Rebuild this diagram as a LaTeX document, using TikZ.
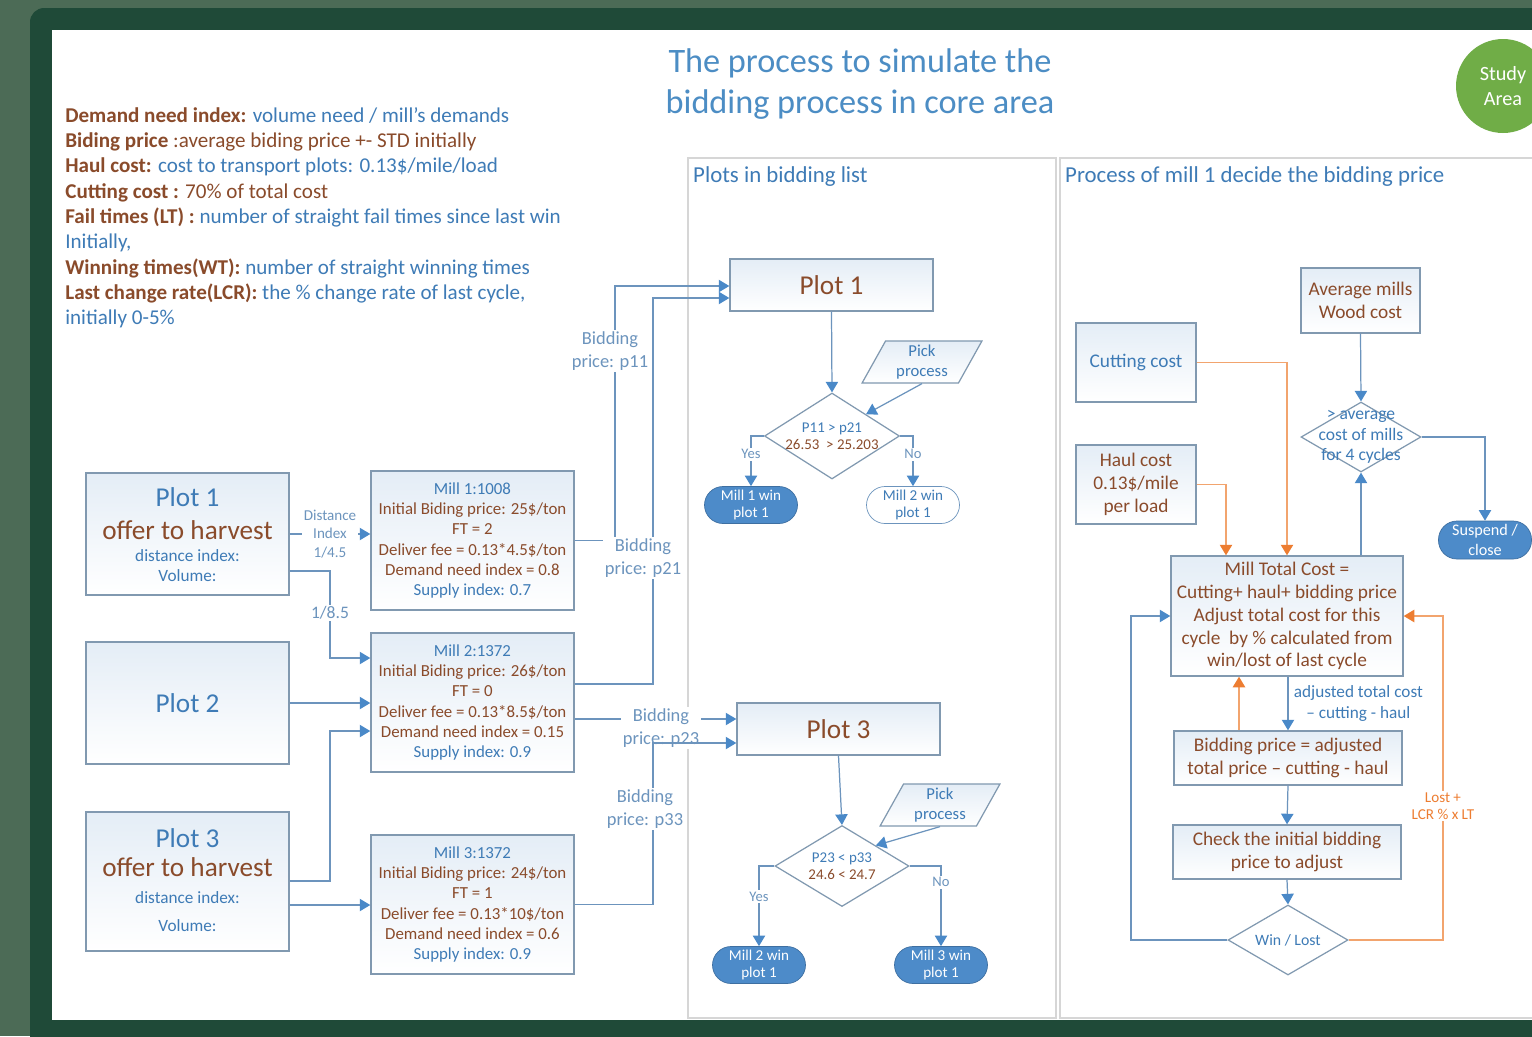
\documentclass[tikz,border=0pt]{standalone}
\usepackage{fontspec}
\setmainfont{Carlito}
\usetikzlibrary{arrows.meta}
\usetikzlibrary{fit}
\usetikzlibrary{shapes.geometric}
\definecolor{bggreen}{HTML}{4C6B56}
\definecolor{framegreen}{HTML}{1F4A38}
\definecolor{txtblue}{HTML}{3E7BB6}
\definecolor{txtbrown}{HTML}{8A4B2B}
\definecolor{titleblue}{HTML}{4C8DC4}
\definecolor{boxline}{HTML}{8199B0}
\definecolor{boxfill}{HTML}{E4EDF6}
\definecolor{linecol}{HTML}{6C94BD}
\definecolor{arrowblue}{HTML}{4A89C8}
\definecolor{lineor}{HTML}{F2A46E}
\definecolor{heador}{HTML}{ED7D31}
\definecolor{tagblue}{HTML}{4D8BC9}
\definecolor{panelline}{HTML}{D6D6D6}
\definecolor{studygreen}{HTML}{70AD47}
\tikzset{box/.style={rectangle, draw=boxline, line width=0.8pt, top color=boxfill, bottom color=white, inner sep=0pt}}
\tikzset{boxtxt/.style={align=center, text=txtbrown, font=\fontsize{11}{13}\selectfont}}
\tikzset{milltxt/.style={align=center, text=txtbrown, font=\fontsize{9.6}{11.6}\selectfont}}
\tikzset{bigtxt/.style={text=txtblue, font=\fontsize{15.5}{18}\selectfont}}
\tikzset{smalltxt/.style={text=txtblue, font=\fontsize{9.8}{12}\selectfont}}
\tikzset{dmd/.style={diamond, draw=boxline, line width=0.7pt, fill=white, inner sep=0pt}}
\tikzset{dmdtxt/.style={align=center, text=txtblue, font=\fontsize{8.5}{9.6}\selectfont}}
\tikzset{tagfill/.style={rectangle, rounded corners=0.37cm, fill=tagblue, draw=tagblue!80!black, text=white, align=center,
   minimum width=1.86cm, minimum height=0.74cm, inner sep=0pt, font=\fontsize{8.6}{10}\selectfont}}
\tikzset{tagopen/.style={tagfill, fill=white, draw=linecol, text=txtblue}}
\tikzset{pick/.style={trapezium, trapezium left angle=65, trapezium right angle=115, trapezium stretches=true,
   draw=boxline, line width=0.7pt, top color=boxfill, bottom color=white, minimum width=2.4cm, minimum height=0.84cm,
   inner sep=1pt, align=center, text=txtblue, font=\fontsize{9.5}{11.5}\selectfont}}
\tikzset{arr/.style={draw=linecol, line width=0.7pt, -{Triangle[width=7pt,length=6pt,color=arrowblue]}}}
\tikzset{oarr/.style={draw=lineor, line width=0.8pt, -{Triangle[width=7pt,length=6pt,color=heador]}}}
\tikzset{bidlbl/.style={fill=white, align=center, text=linecol, inner sep=1pt, font=\fontsize{10.5}{13}\selectfont}}
\tikzset{yn/.style={fill=white, text=linecol, inner sep=1pt, font=\fontsize{8.3}{9}\selectfont}}

\begin{document}
\begin{tikzpicture}[x=0.02cm, y=-0.02cm]

    \useasboundingbox (0,0) rectangle (1532,1036);
    \begin{scope}
    \clip (0,0) rectangle (1532,1036);
    \fill[bggreen] (0,0) rectangle (1532,1036);
    \fill[framegreen, rounded corners=8pt] (30,8) rectangle (1580,1060);
    \fill[white] (52,30) rectangle (1532,1020);
    \draw[panelline, line width=0.8pt] (688,158) rectangle (1056,1018);
    \draw[panelline, line width=0.8pt] (1060,158) rectangle (1560,1018);
    \end{scope}

    % header
    \node[align=center, text=titleblue, font=\fontsize{19.5}{23}\selectfont] (ttl) at (860,84)
      {The process to simulate the\\bidding process in core area};
    \node[circle, fill=studygreen, minimum size=1.88cm, text=white, align=center, inner sep=0pt,
      font=\fontsize{11.5}{14}\selectfont] (sa) at (1503,86) {Study\\Area};
    \node[anchor=west, text=txtblue, font=\fontsize{13}{15}\selectfont] (tl) at (687,177) {Plots in bidding list};
    \node[anchor=west, text=txtblue, font=\fontsize{13}{15}\selectfont] (tr) at (1059,177) {Process of mill 1 decide the bidding price};

    % legend
    \node[anchor=north west, align=left, inner sep=0pt, text=txtbrown, font=\fontsize{12}{14.4}\selectfont] (lgd) at (65,107) {%
      \textbf{Demand need index:} \textcolor{txtblue}{volume need / mill’s demands}\\
      \textbf{Biding price} :average biding price +- STD initially\\
      \textbf{Haul cost:} \textcolor{txtblue}{cost to transport plots: 0.13\$/mile/load}\\
      \textbf{Cutting cost :} 70\% of total cost\\
      \textbf{Fail times (LT) :} \textcolor{txtblue}{number of straight fail times since last win}\\
      \textcolor{txtblue}{Initially,}\\
      \textbf{Winning times(WT):} \textcolor{txtblue}{number of straight winning times}\\
      \textbf{Last change rate(LCR):} \textcolor{txtblue}{the \% change rate of last cycle,}\\
      \textcolor{txtblue}{initially 0-5\%}};

    % plots offered
    \node[box, fit={(86,473)(289,595)},
      label={[bigtxt, yshift=0.74cm]center:Plot 1}, label={[bigtxt, text=txtbrown, yshift=0.08cm]center:offer to harvest},
      label={[smalltxt, yshift=-0.44cm]center:distance index:}, label={[smalltxt, yshift=-0.84cm]center:Volume:}] (pa) {};
    \node[box, fit={(86,642)(289,764)}, label={[bigtxt]center:Plot 2}] (pb) {};
    \node[box, fit={(86,812)(289,951)},
      label={[bigtxt, yshift=0.87cm]center:Plot 3}, label={[bigtxt, text=txtbrown, yshift=0.29cm]center:offer to harvest},
      label={[smalltxt, yshift=-0.33cm]center:distance index:}, label={[smalltxt, yshift=-0.89cm]center:Volume:}] (pc) {};

    % mills
    \node[box, fit={(371,471)(574,610)}, label={[milltxt]center:{\textcolor{txtblue}{Mill 1:1008}\\Initial Biding price: 25\$/ton\\FT = 2\\Deliver fee = 0.13*4.5\$/ton\\Demand need index = 0.8\\\textcolor{txtblue}{Supply index: 0.7}}}] (ma) {};
    \node[box, fit={(371,633)(574,772)}, label={[milltxt]center:{\textcolor{txtblue}{Mill 2:1372}\\Initial Biding price: 26\$/ton\\FT = 0\\Deliver fee = 0.13*8.5\$/ton\\Demand need index = 0.15\\\textcolor{txtblue}{Supply index: 0.9}}}] (mb) {};
    \node[box, fit={(371,835)(574,974)}, label={[milltxt]center:{\textcolor{txtblue}{Mill 3:1372}\\Initial Biding price: 24\$/ton\\FT = 1\\Deliver fee = 0.13*10\$/ton\\Demand need index = 0.6\\\textcolor{txtblue}{Supply index: 0.9}}}] (mc) {};

    % plots in bidding list
    \node[box, fit={(730,259)(933,311)}, label={[bigtxt, text=txtbrown]center:Plot 1}] (pl1) {};
    \node[box, fit={(737,703)(940,755)}, label={[bigtxt, text=txtbrown]center:Plot 3}] (pl3) {};
    \node[dmd, minimum width=2.7cm, minimum height=1.72cm, label={[dmdtxt]center:{P11 > p21\\\textcolor{txtbrown}{26.53\ \ > 25.203}}}] (da) at (832,436) {};
    \node[dmd, minimum width=2.68cm, minimum height=1.62cm, label={[dmdtxt]center:{P23 < p33\\\textcolor{txtbrown}{24.6 < 24.7}}}] (db) at (842,866) {};
    \node[pick] (ka) at (922,362) {Pick\\process};
    \node[pick] (kb) at (940,805) {Pick\\process};
    \node[tagfill] (wa) at (751,505) {Mill 1 win\\plot 1};
    \node[tagopen] (wb) at (913,505) {Mill 2 win\\plot 1};
    \node[tagfill] (wc) at (759,965) {Mill 2 win\\plot 1};
    \node[tagfill] (wd) at (941,965) {Mill 3 win\\plot 1};

    % mill 1 process
    \node[box, fit={(1076,323)(1196,402)}, label={[boxtxt, text=txtblue]center:Cutting cost}] (cut) {};
    \node[box, fit={(1076,445)(1196,524)}, label={[boxtxt]center:{Haul cost\\0.13\$/mile\\per load}}] (haul) {};
    \node[box, fit={(1301,268)(1420,333)}, label={[boxtxt]center:{Average mills\\Wood cost}}] (avg) {};
    \node[dmd, minimum width=2.4cm, minimum height=1.4cm, label={[dmdtxt, font=\fontsize{10}{11.8}\selectfont]center:{> average\\cost of mills\\for 4 cycles}}] (dc) at (1361,437) {};
    \node[tagfill, minimum height=0.76cm, font=\fontsize{9.2}{11}\selectfont] (sus) at (1485,540) {Suspend /\\close};
    \node[box, fit={(1171,556)(1403,676)}, label={[boxtxt]center:{Mill Total Cost =\\Cutting+ haul+ bidding price\\Adjust total cost for this\\cycle\ \ by \% calculated from\\win/lost of last cycle}}] (mtc) {};
    \node[box, fit={(1174,731)(1402,785)}, label={[boxtxt]center:{Bidding price = adjusted\\total price – cutting - haul}}] (bid) {};
    \node[box, fit={(1173,825)(1401,879)}, label={[boxtxt]center:{Check the initial bidding\\price to adjust}}] (chk) {};
    \node[dmd, minimum width=2.4cm, minimum height=1.4cm, label={[dmdtxt, font=\fontsize{9}{10}\selectfont]center:Win / Lost}] (wl) at (1288,940) {};

    % plots to mills
    \draw[arr] (pa.east) -- node[bidlbl, font=\fontsize{8.6}{10.5}\selectfont] (dix) {Distance\\Index\\1/4.5} (pa.east -| ma.west);
    \draw[arr] (pa.east |- 0,571) -| (330,658) -- (mb.west |- 0,658);
    \node[bidlbl, font=\fontsize{10}{11}\selectfont] (dx2) at (330,613) {1/8.5};
    \draw[arr] (pb.east) -- (pb.east -| mb.west);
    \draw[arr] (pc.east |- 0,881) -| (330,731) -- (mb.west |- 0,731);
    \draw[arr] (pc.east |- 0,905) -- (mc.west |- 0,905);

    % mills bidding to plots
    \draw[arr] (ma.east) -| (615,286) -- (pl1.west |- 0,286);
    \draw[arr] (mb.east |- 0,684) -| (653,298) -- (pl1.west |- 0,298);
    \draw[arr] (mb.east |- 0,719) -- (pl3.west |- 0,719);
    \node[bidlbl] (b11) at (610,351) {Bidding\\price: p11};
    \node[bidlbl] (b21) at (643,558) {Bidding\\price: p21};
    \node[bidlbl] (b23) at (661,728) {Bidding\\price: p23};
    \draw[arr] (mc.east) -| (653,743) -- (pl3.west |- 0,743);
    \node[bidlbl] (b33) at (645,809) {Bidding\\price: p33};

    % pick process
    \draw[arr] (pl1.south) -- (da.north);
    \draw[arr] (ka.south) -- (da.north east);
    \draw[arr] (da.west) -| node[yn, pos=0.68] {Yes} (wa.north);
    \draw[arr] (da.east) -| node[yn, pos=0.68] {No} (wb.north);
    \draw[arr] (pl3.south) -- (db.north);
    \draw[arr] (kb.south) -- (db.north east);
    \draw[arr] (db.west) -| node[yn, pos=0.69] {Yes} (wc.north);
    \draw[arr] (db.east) -| node[yn, pos=0.6] {No} (wd.north);

    % bidding price decision
    \draw[arr] (avg.south) -- (dc.north);
    \draw[arr] (dc.east) -| (sus.north);
    \draw[arr] (dc.south |- mtc.north) -- (dc.south);
    \draw[oarr] (cut.east) -| (1287,0 |- mtc.north);
    \draw[oarr] (haul.east) -| (1226,0 |- mtc.north);
    \draw[arr] (1288,0 |- mtc.south) -- node[right, align=center, text=txtblue, inner sep=3pt, font=\fontsize{9.8}{11.5}\selectfont] (adj) {adjusted total cost\\– cutting - haul} (1288,0 |- bid.north);
    \draw[oarr] (1239,0 |- bid.north) -- (1239,0 |- mtc.south);
    \draw[arr] (bid.south) -- (chk.north);
    \draw[arr] (chk.south) -- (wl.north);
    \draw[arr] (wl.west) -| (1131,0 |- mtc.west) -- (mtc.west);
    \draw[oarr] (wl.east) -| (1443,0 |- mtc.east) -- (mtc.east);
    \node[fill=white, align=center, text=heador, inner sep=1pt, font=\fontsize{8.6}{10}\selectfont] (lcr) at (1443,806) {Lost +\\LCR \% x LT};

  \end{tikzpicture}
\end{document}
